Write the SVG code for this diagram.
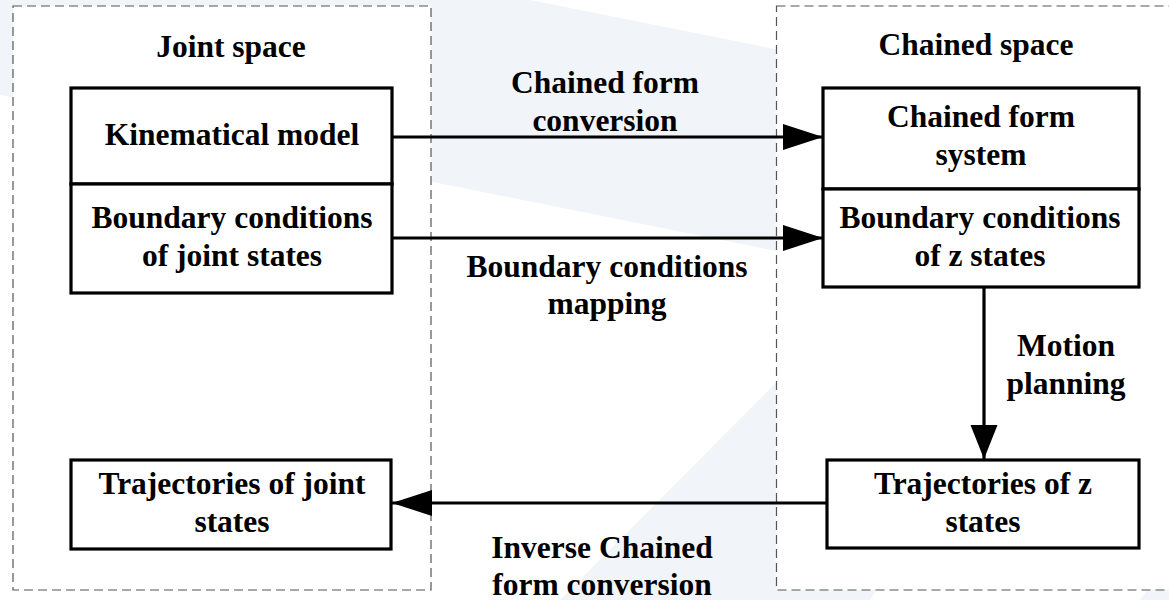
<svg xmlns="http://www.w3.org/2000/svg" width="1169" height="600" viewBox="0 0 1169 600">
<defs>
<style>
.wm{fill:#f1f4f8;stroke:none}
.region{fill:#fff;stroke:#555;stroke-width:1.2;stroke-dasharray:9 5}
.box{fill:#fff;stroke:#000;stroke-width:3.2}
.t{font-family:"Liberation Serif","Times New Roman",serif;font-weight:bold;font-size:31.5px;fill:#000;text-anchor:middle}
.conn{stroke:#000;stroke-width:3.2;fill:none}
</style>
<marker id="ah" markerUnits="userSpaceOnUse" markerWidth="40" markerHeight="28" viewBox="0 0 40 28" refX="40" refY="14" orient="auto">
<path d="M0,1 L40,14 L0,27 Z" fill="#000"/>
</marker>
<marker id="ahv" markerUnits="userSpaceOnUse" markerWidth="34" markerHeight="28" viewBox="0 0 34 28" refX="34" refY="14" orient="auto">
<path d="M0,0.5 L34,14 L0,27.5 Z" fill="#000"/>
</marker>
</defs>
<rect width="1169" height="600" fill="#fff"/>
<g id="watermark">
<polygon class="wm" points="0,0 530,0 1169,128 1169,330 0,95"/>
<polygon class="wm" points="560,600 900,258 1100,258 870,600"/>
<polygon class="wm" points="1140,600 1169,560 1169,600"/>
</g>
<g id="joint-space">
<rect class="region" x="13" y="6" width="418" height="584"/>
<text class="t" x="231" y="57">Joint space</text>
</g>
<g id="chained-space">
<rect class="region" x="776.5" y="6" width="420" height="584"/>
<text class="t" x="976" y="55">Chained space</text>
</g>
<g id="kinematical-model">
<rect class="box" x="71" y="88" width="321" height="96"/>
<text class="t" x="232" y="145">Kinematical model</text>
</g>
<g id="boundary-joint">
<rect class="box" x="71" y="184" width="321" height="109"/>
<text class="t" x="232" y="228">Boundary conditions</text>
<text class="t" x="232" y="266">of joint states</text>
</g>
<g id="chained-form-system">
<rect class="box" x="823" y="88" width="316" height="101"/>
<text class="t" x="981" y="127">Chained form</text>
<text class="t" x="981" y="165">system</text>
</g>
<g id="boundary-z">
<rect class="box" x="823" y="189" width="316" height="98"/>
<text class="t" x="980" y="228">Boundary conditions</text>
<text class="t" x="980" y="266">of z states</text>
</g>
<g id="trajectories-z">
<rect class="box" x="827" y="460" width="312" height="88"/>
<text class="t" x="983" y="494">Trajectories of z</text>
<text class="t" x="983" y="532">states</text>
</g>
<g id="trajectories-joint">
<rect class="box" x="71" y="460" width="320" height="89"/>
<text class="t" x="232" y="494">Trajectories of joint</text>
<text class="t" x="232" y="532">states</text>
</g>
<g id="connectors">
<line class="conn" x1="392" y1="137" x2="823" y2="137" marker-end="url(#ah)"/>
<line class="conn" x1="392" y1="238" x2="823" y2="238" marker-end="url(#ah)"/>
<line class="conn" x1="984" y1="287" x2="984" y2="459" marker-end="url(#ahv)"/>
<line class="conn" x1="827" y1="503" x2="392" y2="503" marker-end="url(#ah)"/>
<text class="t" x="605" y="93">Chained form</text>
<text class="t" x="605" y="131">conversion</text>
<text class="t" x="607" y="277">Boundary conditions</text>
<text class="t" x="607" y="314">mapping</text>
<text class="t" x="1066" y="356">Motion</text>
<text class="t" x="1066" y="394">planning</text>
<text class="t" x="602" y="558">Inverse Chained</text>
<text class="t" x="602" y="595">form conversion</text>
</g>
</svg>
